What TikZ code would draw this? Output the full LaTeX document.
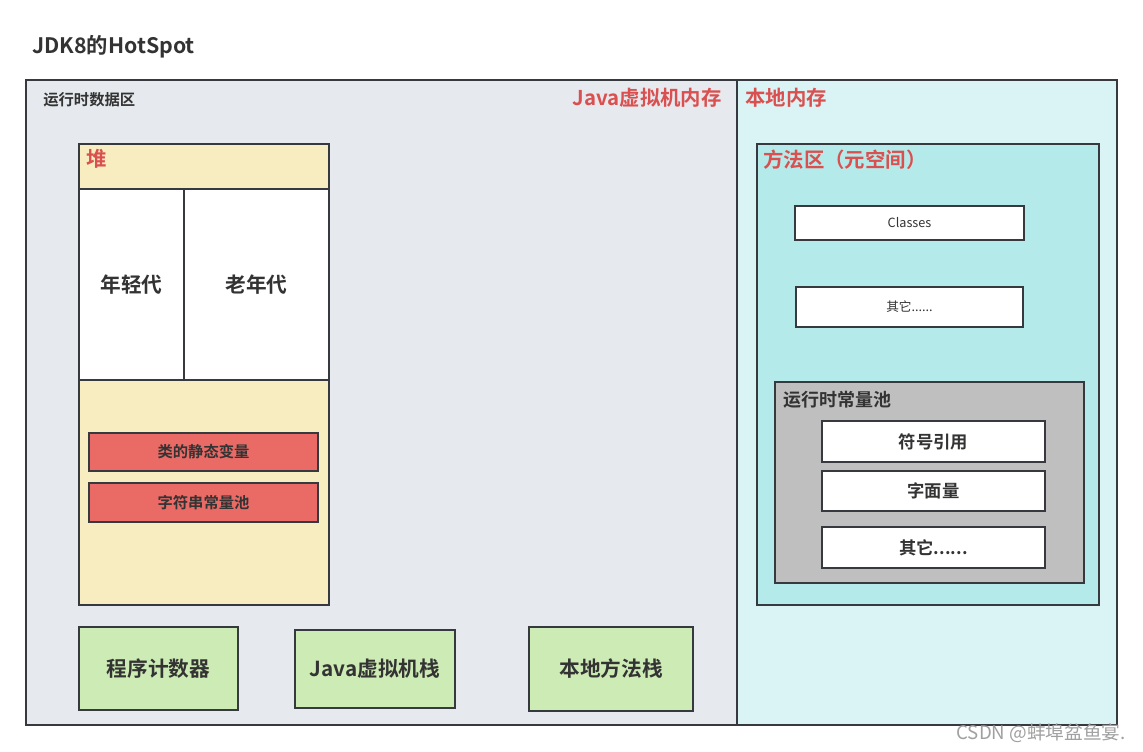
\documentclass[tikz,border=0pt]{standalone}
\usepackage{fontspec}
\setmainfont{Noto Sans CJK SC}[BoldFont={Noto Sans CJK SC Bold}]
\usetikzlibrary{fit,positioning}
\definecolor{ink}{HTML}{333333}
\definecolor{edge}{HTML}{36393D}
\definecolor{redtext}{HTML}{DA5050}
\definecolor{jvmfill}{HTML}{E6EAEE}
\definecolor{nativefill}{HTML}{DAF3F4}
\definecolor{heapfill}{HTML}{F7EDC0}
\definecolor{redfill}{HTML}{EA6B66}
\definecolor{greenfill}{HTML}{CDEBB4}
\definecolor{metafill}{HTML}{B5EAEA}
\definecolor{poolfill}{HTML}{BFBFBF}
\definecolor{mark}{HTML}{A0A0A0}
\tikzset{
  region/.style={draw=edge, line width=1.2pt, inner sep=0pt},
  jvmbox/.style={region, fill=jvmfill},
  nativebox/.style={region, fill=nativefill},
  heapbox/.style={region, fill=heapfill},
  genbox/.style={region, fill=white},
  redbox/.style={region, fill=redfill},
  greenbox/.style={region, fill=greenfill},
  metabox/.style={region, fill=metafill},
  poolbox/.style={region, fill=poolfill},
  itembox/.style={region, fill=white},
  bigtext/.style={font=\bfseries\fontsize{15.5pt}{18pt}\selectfont, text=ink, inner sep=0pt},
  midtext/.style={font=\bfseries\fontsize{13pt}{16pt}\selectfont, text=ink, inner sep=0pt},
  redboxtext/.style={font=\bfseries\fontsize{11.5pt}{14pt}\selectfont, text=ink, inner sep=0pt},
  smalltext/.style={font=\fontsize{9.5pt}{12pt}\selectfont, text=ink, inner sep=0pt},
  title/.style={font=\bfseries\fontsize{16pt}{19pt}\selectfont, text=ink, inner sep=0pt},
  label/.style={font=\bfseries\fontsize{11.5pt}{14pt}\selectfont, text=ink, inner sep=0pt},
  redlabel/.style={font=\bfseries\fontsize{15.3pt}{18pt}\selectfont, text=redtext, inner sep=0pt},
  poollabel/.style={font=\bfseries\fontsize{13.5pt}{16pt}\selectfont, text=ink, inner sep=0pt},
  watermark/.style={font=\fontsize{14pt}{16pt}\selectfont, text=mark, inner sep=0pt}
}
\begin{document}
\begin{tikzpicture}[x=0.75pt,y=-0.75pt]
\useasboundingbox[fill=white] (0,0) rectangle (1143,751);
\node[title, anchor=west] (ttl) at (32,47) {JDK8的HotSpot};
% outer memory regions
\node[jvmbox, fit={(26,80) (737,725)}] (jvm) {};
\node[nativebox, fit={(737,80) (1117,725)}] (native) {};
\node[label, anchor=west] (rda) at (43,100) {运行时数据区};
\node[redlabel, anchor=east] (jvmlbl) at (722,98) {Java虚拟机内存};
\node[redlabel, anchor=west] (natlbl) at (745,98) {本地内存};
% heap
\node[heapbox, fit={(79,144) (329,605)}] (heap) {};
\node[redlabel, anchor=west] (heaplbl) at (86,159) {堆};
\node[genbox, fit={(79,189) (184,380)}] (young) {};
\node[genbox, fit={(184,189) (329,380)}] (old) {};
\node[bigtext] (youngtxt) at (young) {年轻代};
\node[bigtext] (oldtxt) at (old) {老年代};
\node[redbox, fit={(89,433) (318,471)}] (statics) {};
\node[redbox, fit={(89,483) (318,522)}] (strpool) {};
\node[redboxtext] (staticstxt) at (statics) {类的静态变量};
\node[redboxtext] (strpooltxt) at (strpool) {字符串常量池};
% thread-private areas
\node[greenbox, fit={(79,627) (238,710)}] (pc) {};
\node[greenbox, fit={(295,630) (455,708)}] (vmstack) {};
\node[greenbox, fit={(529,627) (693,711)}] (nstack) {};
\node[bigtext] (pctxt) at (pc) {程序计数器};
\node[bigtext] (vmstacktxt) at (vmstack) {Java虚拟机栈};
\node[bigtext] (nstacktxt) at (nstack) {本地方法栈};
% method area
\node[metabox, fit={(757,144) (1099,605)}] (meta) {};
\node[redlabel, anchor=west] (metalbl) at (763,160) {方法区（元空间）};
\node[itembox, fit={(795,206) (1024,240)}] (classes) {};
\node[itembox, fit={(796,287) (1023,327)}] (others) {};
\node[smalltext] (classestxt) at (classes) {Classes};
\node[smalltext] (otherstxt) at (others) {其它......};
\node[poolbox, fit={(775,382) (1084,583)}] (pool) {};
\node[poollabel, anchor=west] (poollbl) at (783,400) {运行时常量池};
\node[itembox, fit={(822,421) (1045,462)}] (symref) {};
\node[itembox, fit={(822,471) (1045,511)}] (literal) {};
\node[itembox, fit={(822,527) (1045,568)}] (poolother) {};
\node[midtext] (symreftxt) at (symref) {符号引用};
\node[midtext] (literaltxt) at (literal) {字面量};
\node[midtext] (poolothertxt) at (poolother) {其它......};
\node[watermark, anchor=east] (wm) at (1126,733) {CSDN @蚌埠盆鱼宴.};
\end{tikzpicture}
\end{document}
